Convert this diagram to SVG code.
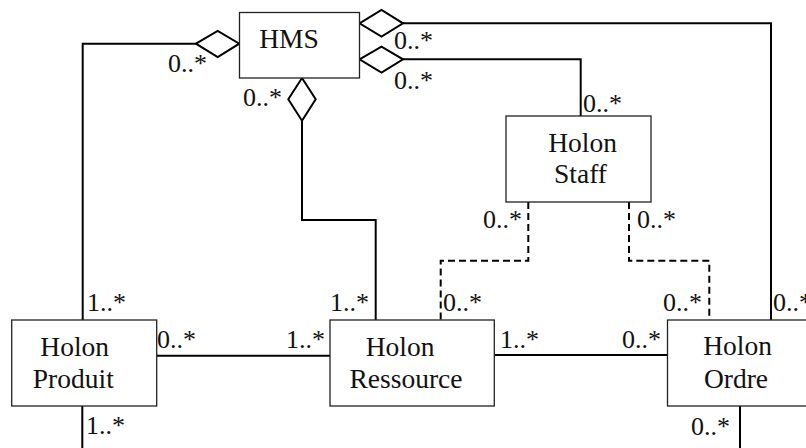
<svg xmlns="http://www.w3.org/2000/svg" width="806" height="448" viewBox="0 0 806 448">
<style>
.box{fill:#fff;stroke:#222;stroke-width:1.3}
.nt{font-family:"Liberation Serif","Times New Roman",serif;font-size:27.5px;fill:#111;text-anchor:middle}
.lb{font-family:"Liberation Serif","Times New Roman",serif;font-size:26px;fill:#111}
.ln{fill:none;stroke:#000;stroke-width:2}
.dl{fill:none;stroke:#000;stroke-width:2;stroke-dasharray:7,4}
.dm{fill:#fff;stroke:#000;stroke-width:2;stroke-linejoin:miter}
</style>
<rect width="806" height="448" fill="#fff"/>
<g id="connectors">
<path class="ln" d="M196,43.7 H82.7 V320"/>
<path class="ln" d="M403,23.3 H771 V320"/>
<path class="ln" d="M403,59.3 H580.7 V116"/>
<path class="ln" d="M302,120.7 V220 H375.7 V320"/>
<path class="ln" d="M82.3,406 V448"/>
<path class="ln" d="M156.7,355.7 H330"/>
<path class="ln" d="M494.3,355 H667.5"/>
<path class="ln" d="M740,406 V448"/>
<path class="dl" d="M528.3,202 V260.7 H440.7 V320"/>
<path class="dl" d="M629,202 V260.7 H709.3 V320"/>
<polygon class="dm" points="196,43.7 217.7,31 239.3,43.7 217.7,57"/>
<polygon class="dm" points="359.5,23.3 381.5,10 403,23.3 381.5,36.5"/>
<polygon class="dm" points="359.5,59.3 381.5,46.7 403,59.3 381.5,72.7"/>
<polygon class="dm" points="302,78 315.7,99.3 302,120.7 288.3,99.3"/>
<text class="lb" x="168" y="72">0..*</text>
<text class="lb" x="394" y="49">0..*</text>
<text class="lb" x="394" y="89">0..*</text>
<text class="lb" x="243" y="106">0..*</text>
<text class="lb" x="583" y="112">0..*</text>
<text class="lb" x="483" y="228">0..*</text>
<text class="lb" x="637" y="228">0..*</text>
<text class="lb" x="87" y="311">1..*</text>
<text class="lb" x="330" y="311">1..*</text>
<text class="lb" x="443" y="311">0..*</text>
<text class="lb" x="663" y="311">0..*</text>
<text class="lb" x="773" y="311">0..*</text>
<text class="lb" x="157" y="348">0..*</text>
<text class="lb" x="286" y="348">1..*</text>
<text class="lb" x="500" y="348">1..*</text>
<text class="lb" x="622" y="348">0..*</text>
<text class="lb" x="86" y="434">1..*</text>
<text class="lb" x="691" y="435">0..*</text>
</g>
<g id="hms">
<rect class="box" x="239.5" y="12.5" width="120" height="65.5"/>
<text class="nt" x="289" y="48.3">HMS</text>
</g>
<g id="staff">
<rect class="box" x="506" y="116" width="145" height="86"/>
<text class="nt" x="582.5" y="151.7">Holon</text>
<text class="nt" x="580.5" y="183.3">Staff</text>
</g>
<g id="produit">
<rect class="box" x="11.7" y="320" width="145" height="86"/>
<text class="nt" x="74.7" y="355.7">Holon</text>
<text class="nt" x="73.3" y="388.3">Produit</text>
</g>
<g id="ressource">
<rect class="box" x="330" y="320" width="164.3" height="86"/>
<text class="nt" x="400" y="355.7">Holon</text>
<text class="nt" x="406" y="388.3">Ressource</text>
</g>
<g id="ordre">
<rect class="box" x="667.5" y="320" width="160" height="86"/>
<text class="nt" x="737.5" y="355">Holon</text>
<text class="nt" x="736" y="388.3">Ordre</text>
</g>
</svg>
